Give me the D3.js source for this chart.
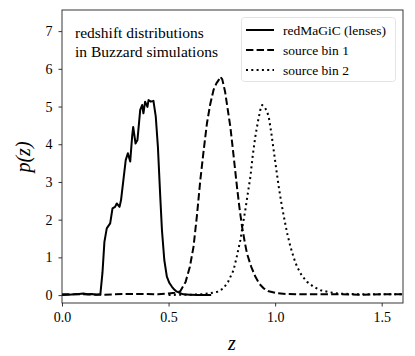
<!DOCTYPE html>
<html><head><meta charset="utf-8">
<script src="https://cdn.jsdelivr.net/npm/d3@7"></script>
<style>body{margin:0;background:#fff;font-family:"Liberation Serif",serif}svg{display:block}svg text{font-family:"Liberation Serif",serif !important}</style>
</head><body><svg id="c" width="415" height="356"></svg>
<script>
const xTicks=[0.0,0.5,1.0,1.5];
const yTicks=[0,1,2,3,4,5,6,7];
const seriesNames=["redMaGiC (lenses)","source bin 1","source bin 2"];
const lensZ=[0.0,0.03,0.06,0.08,0.10,0.12,0.14,0.16,0.18,0.19,0.199,0.210,0.226,0.237,0.249,0.257,0.270,0.277,0.288,0.299,0.309,0.320,0.329,0.334,0.345,0.354,0.367,0.376,0.382,0.390,0.401,0.406,0.417,0.429,0.440,0.450,0.461,0.469,0.480,0.492,0.504,0.516,0.528,0.539,0.555,0.57,0.60,0.64,0.70];
const lensP=[0.0,0.01,0.02,0.03,0.04,0.02,0.03,0.01,0.02,0.6,1.41,1.77,1.90,2.30,2.34,2.43,2.34,2.52,3.05,3.58,3.76,3.54,4.20,4.46,4.02,4.11,4.91,5.04,4.82,5.13,4.99,5.17,5.13,5.15,4.73,3.93,2.61,1.72,0.93,0.49,0.32,0.22,0.14,0.09,0.05,0.02,0.01,0.0,0.0];
const bin1Z=[0.0,0.10,0.20,0.30,0.40,0.45,0.50,0.53,0.555,0.58,0.60,0.617,0.633,0.649,0.665,0.680,0.695,0.711,0.725,0.735,0.743,0.752,0.765,0.790,0.805,0.821,0.833,0.845,0.857,0.868,0.888,0.907,0.926,0.946,0.97,1.01,1.05,1.10,1.20,1.30,1.40,1.50,1.60];
const bin1P=[0.02,0.02,0.01,0.03,0.03,0.02,0.04,0.06,0.1,0.35,0.75,1.28,2.10,3.05,3.85,4.55,5.05,5.44,5.62,5.70,5.79,5.72,5.40,4.46,3.70,2.87,2.30,1.81,1.42,1.10,0.75,0.49,0.30,0.18,0.10,0.05,0.03,0.02,0.02,0.02,0.01,0.02,0.02];
const bin2Z=[0.50,0.55,0.60,0.65,0.696,0.73,0.758,0.78,0.805,0.82,0.837,0.848,0.860,0.872,0.884,0.895,0.907,0.920,0.930,0.939,0.950,0.960,0.970,0.982,0.993,1.005,1.017,1.029,1.041,1.056,1.072,1.088,1.103,1.125,1.150,1.180,1.213,1.25,1.30,1.40,1.50,1.60];
const bin2P=[0.0,0.01,0.01,0.02,0.05,0.09,0.18,0.36,0.66,1.02,1.46,1.85,2.25,2.70,3.14,3.70,4.20,4.62,4.90,5.04,4.98,4.90,4.73,4.30,3.85,3.35,2.87,2.45,2.08,1.65,1.28,0.98,0.75,0.52,0.35,0.22,0.13,0.08,0.04,0.02,0.02,0.02];

const FONT="Liberation Serif, serif";
const svg=d3.select("#c");
const L=62,R=403,T=10,B=303;
const x=d3.scaleLinear().domain([0,1.6]).range([L,R]);
const y=d3.scaleLinear().domain([-0.21,7.56]).range([B,T]);

const xa=svg.append("g").attr("transform",`translate(0,${B})`).call(d3.axisBottom(x).tickValues(xTicks).tickFormat(d3.format(".1f")).tickSize(3.5).tickPadding(6));
const ya=svg.append("g").attr("transform",`translate(${L},0)`).call(d3.axisLeft(y).tickValues(yTicks).tickFormat(d3.format("d")).tickSize(3.5).tickPadding(6));
[xa,ya].forEach(a=>{a.attr("font-family",FONT).attr("font-size",14);a.select(".domain").remove();a.selectAll("line").attr("stroke","#000").attr("stroke-width",0.8);a.selectAll("text").attr("font-family",FONT).attr("font-size",14).attr("fill","#000");});

svg.append("clipPath").attr("id","cp").append("rect").attr("x",L).attr("y",T).attr("width",R-L).attr("height",B-T);
const line=d3.line().x(d=>x(d[0])).y(d=>y(d[1]));
const styles=[null,"7.4,3.2","2,3.3"];
const data=[d3.zip(lensZ,lensP),d3.zip(bin1Z,bin1P),d3.zip(bin2Z,bin2P)];
data.forEach((d,i)=>{
  const p=svg.append("path").datum(d).attr("d",line).attr("fill","none").attr("stroke","#000").attr("stroke-width",2).attr("clip-path","url(#cp)").attr("stroke-linejoin","round");
  if(styles[i]) p.attr("stroke-dasharray",styles[i]);
});

svg.append("rect").attr("x",L).attr("y",T).attr("width",R-L).attr("height",B-T).attr("fill","none").attr("stroke","#222").attr("stroke-width",0.9);

function txt(sel,xx,yy,s,fs){return sel.append("text").attr("x",xx).attr("y",yy).attr("font-family",FONT).attr("font-size",fs).attr("fill","#000").text(s);}
txt(svg,75,38,"redshift distributions",15.5);
txt(svg,75,57,"in Buzzard simulations",15.5);

svg.append("rect").attr("x",241.5).attr("y",17.5).attr("width",154).attr("height",64).attr("rx",3).attr("fill","#fff").attr("fill-opacity",0.8).attr("stroke","#ddd").attr("stroke-width",0.8);
seriesNames.forEach((n,i)=>{
  const yy=30+i*20;
  const l=svg.append("line").attr("x1",246).attr("x2",274).attr("y1",yy).attr("y2",yy).attr("stroke","#000").attr("stroke-width",2);
  if(styles[i]) l.attr("stroke-dasharray",styles[i]);
  txt(svg,283,yy+4.5,n,13.5);
});

txt(svg,232,350,"z",20).attr("text-anchor","middle").attr("font-style","italic");
svg.append("text").attr("transform","translate(30,157) rotate(-90)").attr("text-anchor","middle").attr("font-family",FONT).attr("font-size",20).attr("font-style","italic").attr("fill","#000").text("p(z)");
</script></body></html>
